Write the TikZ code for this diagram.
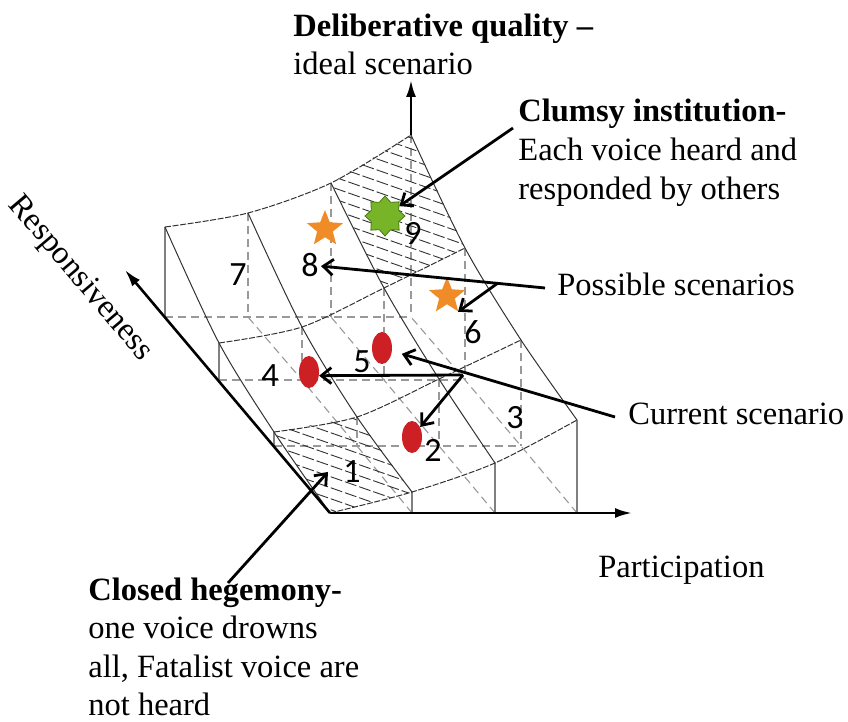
\documentclass[tikz,border=0pt]{standalone}
\usepackage{fontspec}
\setmainfont{Liberation Serif}
\newfontfamily\numfont{Carlito}
\usetikzlibrary{arrows.meta, shapes.geometric}

\begin{document}
\begin{tikzpicture}[x=0.5pt, y=-0.5pt,
  label/.style={font=\fontsize{16.25pt}{19.3pt}\selectfont, anchor=base west, inner sep=0pt},
  cellnum/.style={font=\numfont\fontsize{17pt}{20pt}\selectfont, inner sep=1pt},
  surf/.style={black!80, line width=0.5pt},
  ridge/.style={black!80, line width=0.5pt, dash pattern=on 3pt off 0.8pt},
  hidden/.style={black!40, line width=0.55pt, dash pattern=on 4pt off 2.5pt},
  post/.style={black!50, line width=0.55pt},
  hatch/.style={black!80, line width=0.45pt, dash pattern=on 6pt off 1.5pt},
  axis/.style={line width=1.3pt, -{Latex[length=8.5pt, width=5pt]}},
  callout/.style={line width=1.4pt, -{Straight Barb[length=5pt, width=8pt]}},
  dot/.style={ellipse, minimum width=10pt, minimum height=16pt, inner sep=0pt,
              fill={rgb,255:red,205;green,32;blue,36}},
  ostar/.style={star, star points=5, star point ratio=2.3, minimum size=19pt,
                inner sep=0pt, fill={rgb,255:red,240;green,140;blue,40}},
  gstar/.style={star, star points=8, star point ratio=1.35, minimum size=20pt,
                inner sep=0pt, fill={rgb,255:red,120;green,180;blue,40},
                draw={rgb,255:red,70;green,120;blue,20}, line width=0.4pt}
]
  \useasboundingbox (0,0) rectangle (848,722);

  % ground grid
  \coordinate (O) at (330,513);
  \coordinate (g10) at (412,513); \coordinate (g20) at (495,513); \coordinate (g30) at (577,513);
  \coordinate (g01) at (274,446); \coordinate (g11) at (357,446);
  \coordinate (g21) at (439,446); \coordinate (g31) at (521,446);
  \coordinate (g02) at (219,380); \coordinate (g12) at (302,380);
  \coordinate (g22) at (384,380); \coordinate (g32) at (465,380);
  \coordinate (g03) at (165,317); \coordinate (g13) at (248,317);
  \coordinate (g23) at (331,317); \coordinate (g33) at (411,317);

  % surface points
  \coordinate (s10) at (412,492); \coordinate (s20) at (495,463); \coordinate (s30) at (577,420);
  \coordinate (s01) at (274,432); \coordinate (s11) at (357,417);
  \coordinate (s21) at (439,379); \coordinate (s31) at (521,340);
  \coordinate (s02) at (219,343); \coordinate (s12) at (302,327);
  \coordinate (s22) at (384,288); \coordinate (s32) at (465,248);
  \coordinate (s03) at (165,227); \coordinate (s13) at (248,213);
  \coordinate (s23) at (331,183); \coordinate (s33) at (411,135);

  \draw[hidden] (g01) -- (g11) -- (g21) -- (g31);
  \draw[hidden] (g02) -- (g12) -- (g22) -- (g32);
  \draw[hidden] (g03) -- (g13) -- (g23) -- (g33);
  \draw[hidden] (g10) -- (g11) -- (g12) -- (g13);
  \draw[hidden] (g20) -- (g21) -- (g22) -- (g23);
  \draw[hidden] (g30) -- (g31) -- (g32) -- (g33);

  \draw[hidden] (s11) -- (g11)  (s21) -- (g21)  (s31) -- (g31);
  \draw[hidden] (s12) -- (g12)  (s22) -- (g22)  (s32) -- (g32);
  \draw[hidden] (s13) -- (g13)  (s23) -- (g23)  (s33) -- (g33);
  \draw[post] (s10) -- (g10)  (s20) -- (g20)  (s30) -- (g30);
  \draw[post] (s01) -- (g01)  (s02) -- (g02)  (s03) -- (g03);

  % hatched cells
  \begin{scope}
    \clip (O) -- (s10) -- (s11) -- (s01) -- cycle;
    \foreach \k in {0,...,10}
      \draw[hatch] (260,375+11*\k) -- ++(200,70);
  \end{scope}
  \begin{scope}
    \clip (s22) -- (s32) -- (s33) -- (s23) -- cycle;
    \foreach \k in {0,...,17}
      \draw[hatch] (320,95+11*\k) -- ++(200,70);
  \end{scope}

  % surface
  \draw[ridge] plot[smooth] coordinates {(O) (s10) (s20) (s30)};
  \draw[ridge] plot[smooth] coordinates {(s01) (s11) (s21) (s31)};
  \draw[ridge] plot[smooth] coordinates {(s02) (s12) (s22) (s32)};
  \draw[ridge] plot[smooth] coordinates {(s03) (s13) (s23) (s33)};
  \draw[surf] plot[smooth] coordinates {(O) (s01) (s02) (s03)};
  \draw[surf] plot[smooth] coordinates {(s10) (s11) (s12) (s13)};
  \draw[surf] plot[smooth] coordinates {(s20) (s21) (s22) (s23)};
  \draw[surf] plot[smooth] coordinates {(s30) (s31) (s32) (s33)};

  % axes
  \coordinate (ptip) at (632,513);
  \coordinate (rtip) at (125,270);
  \coordinate (qtip) at (411,80);
  \draw[axis] (O) -- (ptip);
  \draw[axis] (O) -- (rtip);
  \draw[axis] (s33) -- (qtip);

  % scenarios
  \node[dot] (e4) at (309,372) {};
  \node[dot] (e5) at (382,348) {};
  \node[dot] (e2) at (412,437) {};
  \node[ostar] (st8) at (325,229) {};
  \node[ostar] (st6) at (447,296) {};
  \node[gstar] (st9) at (385,216) {};

  \node[cellnum] (n1) at (352,472) {1};
  \node[cellnum] (n2) at (433,450) {2};
  \node[cellnum] (n3) at (515,418) {3};
  \node[cellnum] (n4) at (270,376) {4};
  \node[cellnum] (n5) at (362,362) {5};
  \node[cellnum] (n6) at (473,332) {6};
  \node[cellnum] (n7) at (238,275) {7};
  \node[cellnum] (n8) at (310,265) {8};
  \node[cellnum] (n9) at (413,233) {9};

  % labels
  \node[label] (delib1) at (293,37) {\textbf{Deliberative quality –}};
  \node[label] (delib2) at (293,75) {ideal scenario};
  \node[label] (clumsy1) at (518,122) {\textbf{Clumsy institution-}};
  \node[label] (clumsy2) at (518,161) {Each voice heard and};
  \node[label] (clumsy3) at (518,200) {responded by others};
  \node[label] (poss) at (557,296) {Possible scenarios};
  \node[label] (curr) at (628,425) {Current scenario};
  \node[label] (part) at (598,578) {Participation};
  \node[label] (closed1) at (88,601) {\textbf{Closed hegemony-}};
  \node[label] (closed2) at (88,639) {one voice drowns};
  \node[label] (closed3) at (88,677) {all, Fatalist voice are};
  \node[label] (closed4) at (88,715) {not heard};
  \node[label, anchor=center, rotate=-49.7] (resp) at (80,279) {Responsiveness};

  % callouts
  \coordinate (cl-tail) at (513,128);
  \draw[callout] (cl-tail) -- (st9);
  \coordinate (ps-tail) at (545,288);
  \coordinate (ps-fork) at (498,283);
  \draw[callout] (ps-tail) -- (n8);
  \draw[callout] (ps-fork) -- (st6.-55);
  \coordinate (cs-tail) at (615,417);
  \coordinate (cs-fork) at (463,375);
  \draw[callout, shorten >=5pt] (cs-tail) -- (e5);
  \draw[callout] (cs-fork) -- (e4.-20);
  \draw[callout] (cs-fork) -- (e2);
  \coordinate (ch-tail) at (228,583);
  \coordinate (ch-head) at (328,472);
  \draw[callout] (ch-tail) -- (ch-head);
\end{tikzpicture}
\end{document}
